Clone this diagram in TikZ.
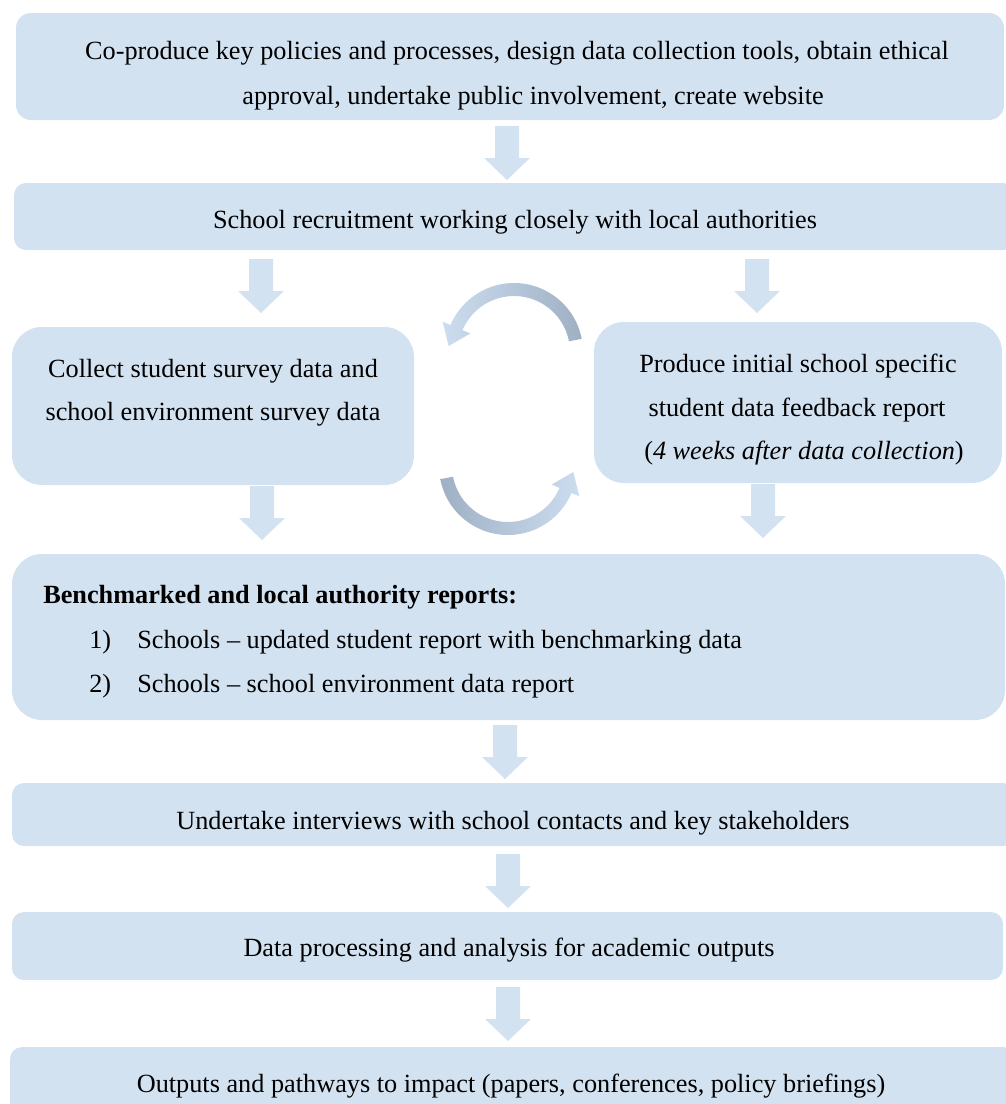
\documentclass[tikz,border=0pt]{standalone}
\usepackage{fontspec}
\setmainfont{Liberation Serif}
\usetikzlibrary{calc}
\definecolor{boxfill}{RGB}{211,226,241}
\definecolor{arcDark}{RGB}{160,176,196}
\definecolor{arcLight}{RGB}{204,221,240}
\begin{document}
\begin{tikzpicture}[x=0.75pt,y=0.75pt,
  font=\fontsize{19.7}{24}\selectfont,
  box/.style={rectangle, fill=boxfill, draw=none, inner sep=0pt},
  txt/.style={anchor=base, inner sep=0pt, text=black},
  barrow/.pic={\fill[boxfill] (-12,0) -- (12,0) -- (12,-32) -- (23,-32) -- (0,-54) -- (-23,-32) -- (-12,-32) -- cycle;}
]
\useasboundingbox (0,0) rectangle (1006,-1104);

% boxes
\node[box, rounded corners=11.25pt, minimum width=741pt, minimum height=80.25pt] (b1) at (510,-66.5) {};
\node[box, rounded corners=9pt, minimum width=750.75pt, minimum height=50.25pt] (b2) at (514.5,-216.5) {};
\node[box, rounded corners=22.5pt, minimum width=301.5pt, minimum height=118.5pt] (b3) at (213,-406) {};
\node[box, rounded corners=22.5pt, minimum width=306pt, minimum height=120.75pt] (b4) at (798,-402.5) {};
\node[box, rounded corners=22.5pt, minimum width=744.75pt, minimum height=124.5pt] (b5) at (508.5,-637) {};
\node[box, rounded corners=9pt, minimum width=752.25pt, minimum height=47.25pt] (b6) at (513.5,-814.5) {};
\node[box, rounded corners=9pt, minimum width=743.25pt, minimum height=51pt] (b7) at (507.5,-946) {};
\node[box, rounded corners=9pt, minimum width=753.75pt, minimum height=54.75pt] (b8) at (512.5,-1083.5) {};

% block arrows
\pic at (507,-126) {barrow};
\pic at (261,-259) {barrow};
\pic at (757,-259) {barrow};
\pic at (262,-486) {barrow};
\pic at (763,-484) {barrow};
\pic at (505,-725) {barrow};
\pic at (508,-854) {barrow};
\pic at (508,-987) {barrow};

% circular arrows
\coordinate (c1) at (514,-352);
\coordinate (c2) at (508,-466);
\shade[left color=arcLight, right color=arcDark]
  ($(c1)+(11:69)$) arc[start angle=11, end angle=157, radius=69]
  -- ($(c1)+(157:77.5)$) -- ($(c1)+(157:62.5)+(247:20)$) -- ($(c1)+(157:47.5)$)
  -- ($(c1)+(157:56)$) arc[start angle=157, end angle=11, radius=56] -- cycle;
\shade[left color=arcDark, right color=arcLight]
  ($(c2)+(191:69)$) arc[start angle=191, end angle=337, radius=69]
  -- ($(c2)+(337:77.5)$) -- ($(c2)+(337:62.5)+(67:20)$) -- ($(c2)+(337:47.5)$)
  -- ($(c2)+(337:56)$) arc[start angle=337, end angle=191, radius=56] -- cycle;

% texts
\node[txt] (t1a) at (517,-59) {Co-produce key policies and processes, design data collection tools, obtain ethical};
\node[txt] (t1b) at (533,-104) {approval, undertake public involvement, create website};
\node[txt] (t2) at (515,-228) {School recruitment working closely with local authorities};
\node[txt] (t3a) at (213,-377) {Collect student survey data and};
\node[txt] (t3b) at (213,-420) {school environment survey data};
\node[txt] (t4a) at (798,-372) {Produce initial school specific};
\node[txt] (t4b) at (797,-416) {student data feedback report};
\node[txt] (t4c) at (804,-459) {(\textit{4 weeks after data collection})};
\node[txt, anchor=base west] (t5a) at (43,-603) {\bfseries Benchmarked and local authority reports:};
\node[txt, anchor=base west] (t5b) at (89,-648) {1)};
\node[txt, anchor=base west] (t5c) at (137,-648) {Schools -- updated student report with benchmarking data};
\node[txt, anchor=base west] (t5d) at (89,-692) {2)};
\node[txt, anchor=base west] (t5e) at (137,-692) {Schools -- school environment data report};
\node[txt] (t6) at (513,-829) {Undertake interviews with school contacts and key stakeholders};
\node[txt] (t7) at (509,-956) {Data processing and analysis for academic outputs};
\node[txt] (t8) at (511,-1092) {Outputs and pathways to impact (papers, conferences, policy briefings)};
\end{tikzpicture}
\end{document}
